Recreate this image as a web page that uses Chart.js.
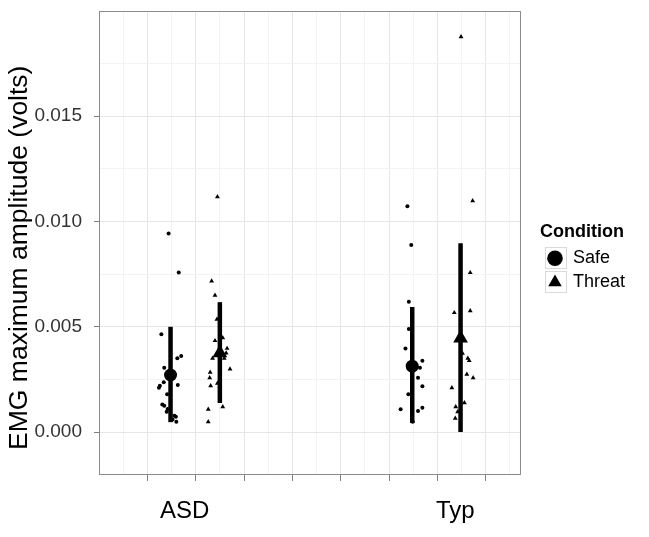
<!DOCTYPE html>
<html>
<head>
<meta charset="utf-8">
<script src="https://cdn.jsdelivr.net/npm/chart.js@4"></script>
<style>
  html, body { margin: 0; padding: 0; background: #fff; }
  #wrap { width: 649px; height: 537px; position: relative; }
</style>
</head>
<body>
<div id="wrap"><canvas id="chart"></canvas></div>
<script>
// Groups on the x axis and where their names sit
const groups = ['ASD', 'Typ'];
const groupLabelX = [1.77, 7.37];
const conditions = ['Safe', 'Threat'];

// Individual subjects (jittered x, amplitude in volts)
const asdSafeX = [1.65, 1.44, 1.29, 1.35, 1.62, 1.70, 1.34, 1.26, 1.24, 1.63, 1.41, 1.31, 1.35, 1.42, 1.40, 1.56, 1.59, 1.60, 1.52];
const asdSafeY = [0.00758, 0.00943, 0.00464, 0.00305, 0.00350, 0.00361, 0.00236, 0.00220, 0.00210, 0.00223, 0.00180, 0.00131, 0.00125, 0.00109, 0.00096, 0.00077, 0.00073, 0.00049, 0.00060];
const asdThreatX = [2.45, 2.33, 2.40, 2.44, 2.40, 2.56, 2.65, 2.35, 2.59, 2.71, 2.30, 2.29, 2.31, 2.45, 2.26, 2.56, 2.26, 2.63, 2.52];
const asdThreatY = [0.01117, 0.00717, 0.00649, 0.00535, 0.00434, 0.00448, 0.00397, 0.00350, 0.00350, 0.00299, 0.00284, 0.00258, 0.00220, 0.00231, 0.00108, 0.00120, 0.00049, 0.00375, 0.00390];
const typSafeX = [6.38, 6.46, 6.41, 6.41, 6.34, 6.69, 6.64, 6.60, 6.69, 6.40, 6.24, 6.60, 6.69, 6.49];
const typSafeY = [0.01073, 0.00888, 0.00619, 0.00489, 0.00397, 0.00339, 0.00305, 0.00258, 0.00218, 0.00180, 0.00108, 0.00100, 0.00115, 0.00049];
const typThreatX = [7.49, 7.73, 7.68, 7.35, 7.68, 7.52, 7.63, 7.66, 7.61, 7.74, 7.30, 7.56, 7.38, 7.42, 7.37];
const typThreatY = [0.01877, 0.01098, 0.00757, 0.00567, 0.00576, 0.00374, 0.00350, 0.00339, 0.00274, 0.00258, 0.00210, 0.00139, 0.00120, 0.00096, 0.00065];

// Summary per cell: ASD Safe, ASD Threat, Typ Safe, Typ Threat
const meanX = [1.48, 2.50, 6.48, 7.48];
const meanY = [0.00271, 0.00375, 0.00313, 0.00446];
const lowerY = [0.00047, 0.00138, 0.00043, 0.00000];
const upperY = [0.00500, 0.00617, 0.00594, 0.00897];

// Axis ticks
const yMajorTicks = [0, 0.005, 0.010, 0.015];
const yTickLabels = ['0.000', '0.005', '0.010', '0.015'];
const yMinorTicks = [0.0025, 0.0075, 0.0125, 0.0175];
const xMajorTicks = [1, 2, 3, 4, 5, 6, 7, 8];
const xMinorTicks = [0.5, 1.5, 2.5, 3.5, 4.5, 5.5, 6.5, 7.5, 8.5];

const FONT = "'Liberation Sans', Arial, sans-serif";

function toPoints(xs, ys) {
    return xs.map((x, i) => ({ x: x, y: ys[i] }));
}

function near(a, list) {
    return list.findIndex(v => Math.abs(v - a) < 1e-9);
}

const datasets = [
    {
        label: conditions[0],
        data: [{ x: meanX[0], y: meanY[0] }, { x: meanX[2], y: meanY[2] }],
        pointStyle: 'circle',
        pointRadius: 6.5,
        backgroundColor: '#000',
        borderColor: '#000',
        borderWidth: 0,
        order: 0
    },
    {
        label: conditions[1],
        data: [{ x: meanX[1], y: meanY[1] }, { x: meanX[3], y: meanY[3] }],
        pointStyle: 'triangle',
        pointRadius: 8.5,
        backgroundColor: '#000',
        borderColor: '#000',
        borderWidth: 0,
        order: 0
    }
];

// Error bars, one small line per cell
meanX.forEach((x, i) => {
    datasets.push({
        label: 'range' + i,
        data: [{ x: x, y: lowerY[i] }, { x: x, y: upperY[i] }],
        showLine: true,
        borderColor: '#000',
        borderWidth: 4.5,
        borderCapStyle: 'butt',
        pointRadius: 0,
        order: 1
    });
});

datasets.push({
    label: 'safePoints',
    data: toPoints(asdSafeX, asdSafeY).concat(toPoints(typSafeX, typSafeY)),
    pointStyle: 'circle',
    pointRadius: 2,
    backgroundColor: '#000',
    borderWidth: 0,
    order: 2
});
datasets.push({
    label: 'threatPoints',
    data: toPoints(asdThreatX, asdThreatY).concat(toPoints(typThreatX, typThreatY)),
    pointStyle: 'triangle',
    pointRadius: 2.8,
    backgroundColor: '#000',
    borderWidth: 0,
    order: 2
});

// Panel border on all four sides, legend nudge and grey key boxes
const framePlugin = {
    id: 'frame',
    afterLayout(chart) {
        const lg = chart.legend;
        if (!lg) return;
        lg.left += 19;
        lg.right += 19;
        lg.top -= 14;
        lg.bottom -= 14;
    },
    afterDatasetsDraw(chart) {
        const { ctx, chartArea: a } = chart;
        ctx.save();
        ctx.strokeStyle = '#8a8a8a';
        ctx.lineWidth = 1;
        ctx.strokeRect(a.left + 0.5, a.top + 0.5, a.right - a.left - 1, a.bottom - a.top - 1);
        ctx.restore();
    },
    afterDraw(chart) {
        const lg = chart.legend;
        if (!lg || !lg.legendHitBoxes) return;
        const ctx = chart.ctx;
        const bw = lg.options.labels.boxWidth;
        ctx.save();
        ctx.strokeStyle = '#d9d9d9';
        ctx.lineWidth = 1;
        lg.legendHitBoxes.forEach(hb => {
            const cx = Math.round(hb.left + bw / 2);
            const cy = Math.round(hb.top + hb.height / 2);
            ctx.strokeRect(cx - 10.5, cy - 10.5, 21, 21);
        });
        ctx.restore();
    }
};

new Chart(document.getElementById('chart'), {
    type: 'scatter',
    data: { datasets: datasets },
    plugins: [framePlugin],
    options: {
        responsive: true,
        maintainAspectRatio: false,
        animation: false,
        layout: { padding: { top: 11, left: 0, right: 33, bottom: 0 } },
        plugins: {
            tooltip: { enabled: false },
            legend: {
                position: 'right',
                align: 'center',
                labels: {
                    filter: item => item.datasetIndex < 2,
                    usePointStyle: true,
                    boxWidth: 21,
                    boxHeight: 11,
                    padding: 6,
                    color: '#000',
                    font: { family: FONT, size: 18 }
                },
                title: {
                    display: true,
                    text: 'Condition',
                    position: 'start',
                    color: '#000',
                    padding: { top: 0, bottom: -1 },
                    font: { family: FONT, size: 18, weight: 'bold' }
                }
            }
        },
        scales: {
            x: {
                type: 'linear',
                min: 0,
                max: 8.73,
                afterFit: axis => { axis.height = 62; },
                afterBuildTicks: axis => {
                    axis.ticks = xMinorTicks.concat(xMajorTicks, groupLabelX)
                        .sort((a, b) => a - b)
                        .map(v => ({ value: v }));
                },
                grid: {
                    color: ctx => {
                        const v = ctx.tick && ctx.tick.value;
                        if (near(v, xMajorTicks) >= 0) return '#e6e6e6';
                        if (near(v, xMinorTicks) >= 0) return '#f3f3f3';
                        return 'rgba(0,0,0,0)';
                    },
                    tickColor: ctx => near(ctx.tick && ctx.tick.value, xMajorTicks) >= 0 ? '#7f7f7f' : 'rgba(0,0,0,0)',
                    tickLength: 6
                },
                border: { display: false },
                ticks: {
                    autoSkip: false,
                    maxRotation: 0,
                    padding: 16,
                    color: '#000',
                    font: { family: FONT, size: 24 },
                    callback: value => {
                        const k = near(value, groupLabelX);
                        return k >= 0 ? groups[k] : '';
                    }
                }
            },
            y: {
                type: 'linear',
                min: -0.00204,
                max: 0.0200,
                afterFit: axis => {
                    axis.width = 99;
                    axis.paddingTop = 0;
                    axis.paddingBottom = 0;
                },
                afterBuildTicks: axis => {
                    axis.ticks = yMajorTicks.concat(yMinorTicks)
                        .sort((a, b) => a - b)
                        .map(v => ({ value: v }));
                },
                grid: {
                    color: ctx => near(ctx.tick && ctx.tick.value, yMajorTicks) >= 0 ? '#e6e6e6' : '#f3f3f3',
                    tickColor: ctx => near(ctx.tick && ctx.tick.value, yMajorTicks) >= 0 ? '#7f7f7f' : 'rgba(0,0,0,0)',
                    tickLength: 5
                },
                border: { display: false },
                ticks: {
                    autoSkip: false,
                    padding: 12,
                    color: '#333',
                    font: { family: FONT, size: 19 },
                    callback: value => {
                        const k = near(value, yMajorTicks);
                        return k >= 0 ? yTickLabels[k] : '';
                    }
                },
                title: {
                    display: true,
                    text: 'EMG maximum amplitude (volts)    ',
                    color: '#000',
                    padding: { top: 4, bottom: 0 },
                    font: { family: FONT, size: 26.5 }
                }
            }
        }
    }
});
</script>
</body>
</html>
